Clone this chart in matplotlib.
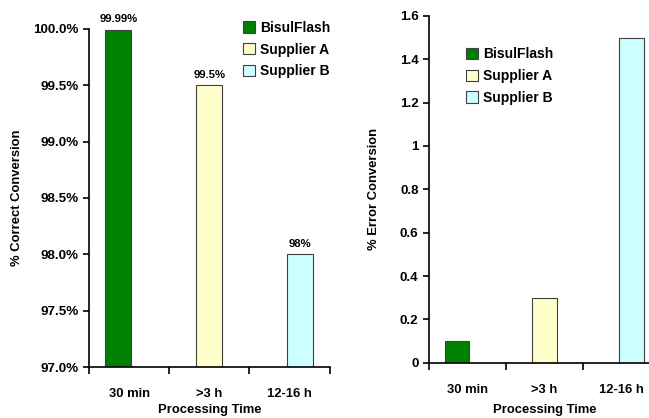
import numpy as np
import matplotlib.pyplot as plt
import matplotlib.ticker as mticker

plt.rcParams['font.family'] = ['Liberation Sans', 'DejaVu Sans']
plt.rcParams['font.weight'] = 'bold'

categories = ['30 min', '>3 h', '12-16 h']
series = ['BisulFlash', 'Supplier A', 'Supplier B']
correct_pct = [99.99, 99.5, 98.0]
correct_labels = ['99.99%', '99.5%', '98%']
error_pct = [0.1, 0.3, 1.5]

colors = ['#008000', '#FFFFCC', '#CCFFFF']
edge = '#404040'
offsets = [-0.135, 0.0, 0.13]
width = 0.32

fig = plt.figure(figsize=(6.49, 4.18), dpi=100)
ax1 = fig.add_axes([0.137, 0.122, 0.371, 0.809])
ax2 = fig.add_axes([0.661, 0.132, 0.356, 0.830])


def style_axes(ax, xpad):
    ax.spines['top'].set_visible(False)
    ax.spines['right'].set_visible(False)
    ax.spines['left'].set_linewidth(1.2)
    ax.spines['bottom'].set_linewidth(1.2)
    ax.set_xlim(-0.5, len(categories) - 0.5)
    # category boundaries get tick marks, labels sit in the middle
    ax.set_xticks(np.arange(len(categories) + 1) - 0.5)
    ax.set_xticklabels([])
    ax.set_xticks(np.arange(len(categories)), minor=True)
    ax.set_xticklabels(categories, minor=True, fontsize=9.4, fontweight='bold')
    ax.tick_params(axis='x', which='major', length=5, width=1.2, direction='out')
    ax.tick_params(axis='x', which='minor', length=0, pad=15)
    ax.tick_params(axis='y', length=4, width=1.2, direction='out', labelsize=9.6)
    ax.set_xlabel('Processing Time', fontsize=9.4, fontweight='bold', labelpad=xpad)


legend_kw = dict(frameon=False, handlelength=0.9, handleheight=0.9, handletextpad=0.35,
                 labelspacing=0.55, borderaxespad=0, prop={'weight': 'bold', 'size': 10})

# left: correct conversion
for i, name in enumerate(series):
    x = i + offsets[i]
    ax1.bar(x, correct_pct[i] - 97.0, bottom=97.0, width=width, color=colors[i],
            edgecolor=edge, linewidth=0.8, label=name)
    ax1.text(x, correct_pct[i] + 0.05, correct_labels[i], ha='center', va='bottom',
             fontsize=8.2, fontweight='bold')
ax1.set_ylim(97.0, 100.0)
ax1.set_yticks(np.arange(97.0, 100.01, 0.5))
ax1.yaxis.set_major_formatter(mticker.FormatStrFormatter('%.1f%%'))
ax1.set_ylabel('% Correct Conversion', fontsize=9.4, fontweight='bold', labelpad=7)
style_axes(ax1, 3)
ax1.legend(loc='upper left', bbox_to_anchor=(0.615, 1.04), **legend_kw)

# right: error conversion
for i, name in enumerate(series):
    x = i + offsets[i]
    ax2.bar(x, error_pct[i], width=width, color=colors[i], edgecolor=edge,
            linewidth=0.8, label=name)
ax2.set_ylim(0, 1.6)
ax2.set_yticks(np.arange(0, 1.61, 0.2))
ax2.yaxis.set_major_formatter(mticker.FuncFormatter(lambda v, p: f'{v:g}'))
ax2.set_ylabel('% Error Conversion', fontsize=9.4, fontweight='bold', labelpad=14)
style_axes(ax2, 6)
ax2.legend(loc='upper left', bbox_to_anchor=(0.135, 0.925), **legend_kw)

fig.savefig('out.png', dpi=100)
